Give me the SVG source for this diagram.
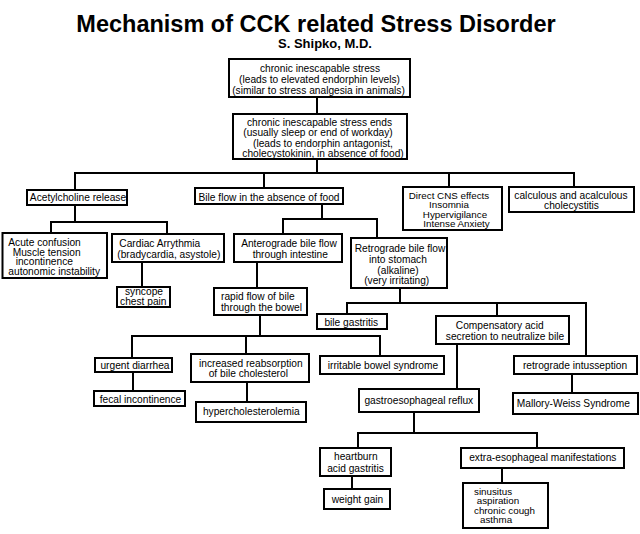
<svg xmlns="http://www.w3.org/2000/svg" width="640" height="534" viewBox="0 0 640 534">
<style>
.bx{fill:#fff;stroke:#000;stroke-width:2}
.cn{fill:none;stroke:#000;stroke-width:2;stroke-linecap:square}
text{font-family:"Liberation Sans",Arial,sans-serif;font-size:10.2px;fill:#000}
.m{text-anchor:middle}
.k{font-size:9.8px}
.t{font-size:23.5px;font-weight:bold}
.s{font-size:13px;font-weight:bold}
</style>
<rect width="640" height="534" fill="#fff"/>
<text class="t m" x="316" y="32">Mechanism of CCK related Stress Disorder</text>
<text class="s m" x="325" y="48">S. Shipko, M.D.</text>
<g id="connectors">
<path class="cn" d="M317,98V113M317,160V173"/>
<path class="cn" d="M75,189V173H574V186M264,173V187M449,173V186"/>
<path class="cn" d="M75,205V222M51,232V222H167V233"/>
<path class="cn" d="M142,263V286"/>
<path class="cn" d="M322,205V219M283,233V219H377V237"/>
<path class="cn" d="M257,263V287"/>
<path class="cn" d="M400,289V303M347,313V303H586V355M497,303V315"/>
<path class="cn" d="M260,316V336M132,357V336H380V355M246,336V353"/>
<path class="cn" d="M133,372V390"/>
<path class="cn" d="M247,383V401"/>
<path class="cn" d="M457,345V388"/>
<path class="cn" d="M572,375V392"/>
<path class="cn" d="M414,413V433M358,447V433H537V447"/>
<path class="cn" d="M352,477V488"/>
<path class="cn" d="M502,469V482"/>
</g>
<g id="n1"><rect class="bx" x="229" y="59" width="181" height="38"/>
<text class="m" x="320" y="72">chronic inescapable stress</text>
<text class="m" x="319.5" y="83">(leads to elevated endorphin levels)</text>
<text class="m" x="318.5" y="94">(similar to stress analgesia in animals)</text></g>
<g id="n2"><rect class="bx" x="233" y="114" width="174" height="45"/>
<text class="m" x="319.5" y="125.5">chronic inescapable stress ends</text>
<text class="m" x="318" y="136">(usually sleep or end of workday)</text>
<text class="m" x="323" y="146.5">(leads to endorphin antagonist,</text>
<text class="m" x="323" y="157">cholecystokinin, in absence of food)</text></g>
<g id="n3"><rect class="bx" x="27" y="190" width="100" height="15"/>
<text class="m" x="78" y="201">Acetylcholine release</text></g>
<g id="n4"><rect class="bx" x="195" y="188" width="148" height="16"/>
<text class="m" x="269" y="200.5">Bile flow in the absence of food</text></g>
<g id="n5"><rect class="bx" x="403" y="187" width="99" height="43"/>
<text class="m k" x="449" y="198.5">Direct CNS effects</text>
<text class="m k" x="449" y="208">Insomnia</text>
<text class="m k" x="455" y="217.5">Hypervigilance</text>
<text class="m k" x="456.5" y="227">Intense Anxiety</text></g>
<g id="n6"><rect class="bx" x="509" y="187" width="125" height="25"/>
<text class="m" x="571" y="198.5">calculous and acalculous</text>
<text class="m" x="571.5" y="208.5">cholecystitis</text></g>
<g id="n7"><rect class="bx" x="2.5" y="233" width="104.5" height="45"/>
<text x="8.3" y="246">Acute confusion</text>
<text x="12.7" y="255.5">Muscle tension</text>
<text x="15.7" y="265">incontinence</text>
<text x="8.3" y="274.5">autonomic instability</text></g>
<g id="n8"><rect class="bx" x="112" y="234" width="112" height="28"/>
<text x="119.3" y="247">Cardiac Arrythmia</text>
<text x="117.3" y="257.5">(bradycardia, asystole)</text></g>
<g id="n9"><rect class="bx" x="117" y="287" width="53" height="20"/>
<text class="m" x="144" y="295">syncope</text>
<text class="m" x="143.3" y="305">chest pain</text></g>
<g id="n10"><rect class="bx" x="234" y="234" width="108" height="28"/>
<text class="m" x="289" y="247">Anterograde bile flow</text>
<text class="m" x="290.3" y="257.5">through intestine</text></g>
<g id="n11"><rect class="bx" x="351" y="238" width="96" height="50"/>
<text class="m" x="400" y="251.5">Retrograde bile flow</text>
<text class="m" x="398" y="262.5">into stomach</text>
<text class="m" x="398" y="273.5">(alkaline)</text>
<text class="m" x="396.7" y="284">(very irritating)</text></g>
<g id="n12"><rect class="bx" x="214" y="288" width="93" height="27"/>
<text x="221" y="299.5">rapid flow of bile</text>
<text x="221" y="310.5">through the bowel</text></g>
<g id="n13"><rect class="bx" x="317" y="314" width="70" height="15"/>
<text class="m" x="351.3" y="325.5">bile gastritis</text></g>
<g id="n14"><rect class="bx" x="436" y="316" width="133" height="28"/>
<text class="m" x="499.7" y="328.5">Compensatory acid</text>
<text class="m" x="505" y="339.5">secretion to neutralize bile</text></g>
<g id="n15"><rect class="bx" x="95" y="358" width="77" height="14"/>
<text class="m" x="135" y="368.5">urgent diarrhea</text></g>
<g id="n16"><rect class="bx" x="191" y="354" width="118" height="28"/>
<text class="m" x="250.8" y="366.5">increased reabsorption</text>
<text class="m" x="248.3" y="377">of bile cholesterol</text></g>
<g id="n17"><rect class="bx" x="320" y="356" width="124" height="18"/>
<text class="m" x="383" y="369">irritable bowel syndrome</text></g>
<g id="n18"><rect class="bx" x="514" y="356" width="123" height="18"/>
<text class="m" x="575" y="368.5">retrograde intusseption</text></g>
<g id="n19"><rect class="bx" x="94" y="391" width="91" height="15"/>
<text class="m" x="140.5" y="402.5">fecal incontinence</text></g>
<g id="n20"><rect class="bx" x="196" y="402" width="110" height="20"/>
<text class="m" x="251.3" y="414.5">hypercholesterolemia</text></g>
<g id="n21"><rect class="bx" x="359" y="389" width="120" height="23"/>
<text class="m" x="418.8" y="403.5">gastroesophageal reflux</text></g>
<g id="n22"><rect class="bx" x="513" y="393" width="125" height="21"/>
<text class="m" x="573.3" y="407">Mallory-Weiss Syndrome</text></g>
<g id="n23"><rect class="bx" x="320" y="448" width="71" height="28"/>
<text class="m" x="355.8" y="460">heartburn</text>
<text class="m" x="355.5" y="471.5">acid gastritis</text></g>
<g id="n24"><rect class="bx" x="461" y="448" width="163" height="20"/>
<text class="m" x="542.8" y="461">extra-esophageal manifestations</text></g>
<g id="n25"><rect class="bx" x="324" y="489" width="66" height="20"/>
<text class="m" x="357.5" y="503">weight gain</text></g>
<g id="n26"><rect class="bx" x="463" y="483" width="85" height="45"/>
<text class="k" x="474" y="494.5">sinusitus</text>
<text class="k" x="476.7" y="504">aspiration</text>
<text class="k" x="474" y="513.5">chronic cough</text>
<text class="k" x="480" y="523">asthma</text></g>
</svg>
